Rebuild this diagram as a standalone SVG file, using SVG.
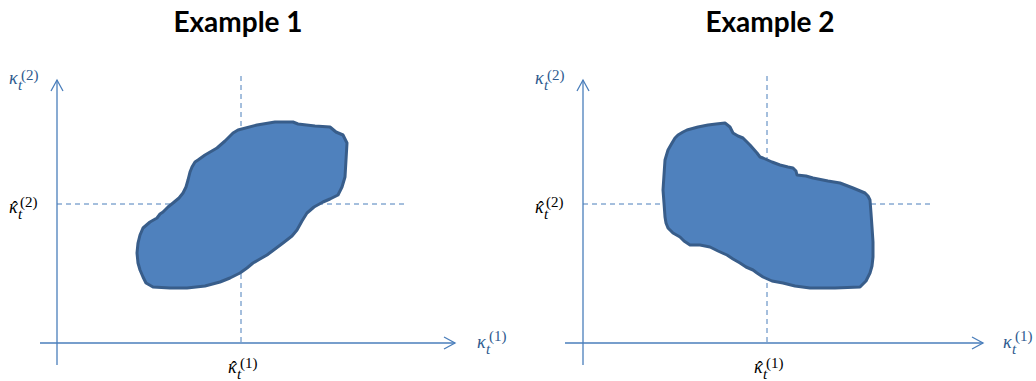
<svg xmlns="http://www.w3.org/2000/svg" width="1036" height="381" viewBox="0 0 1036 381">
<style>
.title{font-family:Lato,"Liberation Sans",sans-serif;font-weight:bold;font-size:28px;fill:#000;text-anchor:middle}
.axis{stroke:#4A7EBB;stroke-width:1.3;fill:none}
.dash{stroke:#4A7EBB;stroke-width:1;stroke-dasharray:5,4;fill:none}
.blob{fill:#4F81BD;stroke:#385D8A;stroke-width:3;stroke-linejoin:round}
.lab{font-family:"Liberation Serif",serif;font-size:18px}
.blue{fill:#2E5A8F}
.blk{fill:#000}
.it{font-style:italic}
.sm{font-size:15px}
</style>
<defs>
<marker id="arr" markerWidth="14" markerHeight="14" refX="12" refY="7" orient="auto" markerUnits="userSpaceOnUse">
<path d="M1,1 L12,7 L1,13" fill="none" stroke="#4A7EBB" stroke-width="1.3"/>
</marker>
</defs>
<text class="title" x="238" y="32">Example 1</text>
<text class="title" x="770" y="32">Example 2</text>
<g id="connectors">
<line class="axis" x1="57" y1="365" x2="57" y2="80" marker-end="url(#arr)"/>
<line class="axis" x1="40" y1="343" x2="455" y2="343" marker-end="url(#arr)"/>
<line class="axis" x1="583" y1="365" x2="583" y2="80" marker-end="url(#arr)"/>
<line class="axis" x1="565" y1="343" x2="983" y2="343" marker-end="url(#arr)"/>
<line class="dash" x1="241" y1="76" x2="241" y2="343"/>
<line class="dash" x1="57" y1="204" x2="406" y2="204"/>
<line class="dash" x1="767" y1="76" x2="767" y2="343"/>
<line class="dash" x1="583" y1="204" x2="932" y2="204"/>
</g>
<g id="region1">
<path class="blob" d="M238,130 L257,125 L275,122 L293,122 L298,124 L315,126 L330,127 L336,132 L343,135 L347,143 L346,160 L345,177 L342,187 L338,195 L330,199 L323,202 L314,207 L307,213 L302,221 L297,230 L292,236 L283,243 L275,249 L267,255 L260,259 L253,263 L247,268 L240,273 L230,278 L220,282 L205,286 L187,288 L170,288 L153,287 L146,283 L143,277 L140,270 L138,263 L137,253 L138,243 L140,235 L143,228 L150,222 L157,218 L160,214 L163,212 L168,207 L173,203 L179,198 L183,193 L186,187 L188,180 L190,172 L192,167 L195,162 L198,160 L205,155 L217,148 L225,141 L233,133 Z"/>
</g>
<g id="region2">
<path class="blob" d="M687,130 L698,127 L708,125 L716,124 L725,123 L730,127 L733,133 L738,136 L743,138 L750,145 L757,153 L760,157 L763,158 L772,162 L780,165 L788,167 L793,168 L796,171 L797,175 L806,176 L813,178 L828,181 L840,183 L853,188 L865,193 L868,196 L870,200 L871,213 L872,227 L873,242 L873,257 L872,266 L870,273 L866,281 L860,287 L835,288 L810,288 L795,286 L783,283 L772,281 L763,277 L757,273 L753,270 L746,267 L740,263 L733,259 L727,255 L718,251 L710,247 L700,245 L690,245 L684,241 L680,237 L673,233 L668,228 L666,223 L665,217 L664,203 L663,190 L664,175 L665,160 L668,150 L672,143 L675,138 L678,135 L683,132 Z"/>
</g>
<g id="label-y1">
<text class="lab blue"><tspan class="it" x="9" y="84">κ</tspan><tspan class="it sm" x="18" y="90">t</tspan><tspan class="sm" x="21" y="80">(2)</tspan></text>
</g>
<g id="label-yhat1">
<text class="lab blk"><tspan class="it" x="9" y="213">κ</tspan><tspan x="12" y="214">ˆ</tspan><tspan class="it sm" x="18" y="219">t</tspan><tspan class="sm" x="20" y="207">(2)</tspan></text>
</g>
<g id="label-x1">
<text class="lab blue"><tspan class="it" x="477" y="348">κ</tspan><tspan class="it sm" x="486" y="354">t</tspan><tspan class="sm" x="489" y="341">(1)</tspan></text>
</g>
<g id="label-xhat1">
<text class="lab blk"><tspan class="it" x="228" y="373">κ</tspan><tspan x="231" y="374">ˆ</tspan><tspan class="it sm" x="237" y="379">t</tspan><tspan class="sm" x="240" y="368">(1)</tspan></text>
</g>
<g id="label-y2">
<text class="lab blue"><tspan class="it" x="535" y="84">κ</tspan><tspan class="it sm" x="544" y="90">t</tspan><tspan class="sm" x="547" y="80">(2)</tspan></text>
</g>
<g id="label-yhat2">
<text class="lab blk"><tspan class="it" x="535" y="213">κ</tspan><tspan x="538" y="214">ˆ</tspan><tspan class="it sm" x="544" y="219">t</tspan><tspan class="sm" x="546" y="207">(2)</tspan></text>
</g>
<g id="label-x2">
<text class="lab blue"><tspan class="it" x="1003" y="348">κ</tspan><tspan class="it sm" x="1012" y="354">t</tspan><tspan class="sm" x="1015" y="341">(1)</tspan></text>
</g>
<g id="label-xhat2">
<text class="lab blk"><tspan class="it" x="754" y="373">κ</tspan><tspan x="757" y="374">ˆ</tspan><tspan class="it sm" x="763" y="379">t</tspan><tspan class="sm" x="766" y="368">(1)</tspan></text>
</g>
</svg>
